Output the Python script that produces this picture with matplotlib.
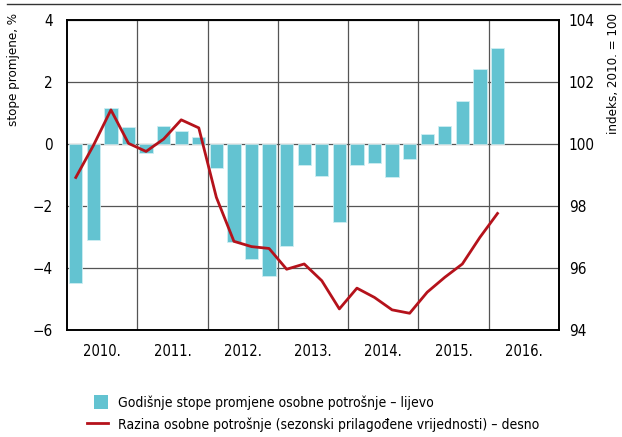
import matplotlib
matplotlib.use("Agg")
import matplotlib.pyplot as plt
from matplotlib.lines import Line2D
from matplotlib.patches import Patch, Rectangle
from matplotlib.legend_handler import HandlerPatch

plt.rcParams['font.family'] = ['DejaVu Sans']
plt.rcParams['font.stretch'] = 'condensed'

years = ["2010.", "2011.", "2012.", "2013.", "2014.", "2015.", "2016."]
growth = [-4.49, -3.10, 1.16, 0.56,
          -0.29, 0.59, 0.43, 0.24,
          -0.78, -3.17, -3.70, -4.27,
          -3.30, -0.67, -1.03, -2.51,
          -0.68, -0.61, -1.05, -0.48,
          0.32, 0.59, 1.40, 2.43,
          3.11]
level = [98.92, 99.95, 101.10, 100.02,
         99.76, 100.16, 100.78, 100.52,
         98.28, 96.86, 96.69, 96.63,
         95.96, 96.13, 95.59, 94.68,
         95.35, 95.05, 94.65, 94.54,
         95.22, 95.70, 96.13, 96.99,
         97.76]
left_ticks = [4, 2, 0, -2, -4, -6]
right_ticks = [104, 102, 100, 98, 96, 94]
legend_labels = ["Godišnje stope promjene osobne potrošnje – lijevo",
                 "Razina osobne potrošnje (sezonski prilagođene vrijednosti) – desno"]

bar_color = "#63c3d1"
line_color = "#b5121b"
grid_color = "#555555"

fig = plt.figure(figsize=(6.22, 4.37), dpi=100)
ax = fig.add_axes([67/622, 1-330/437, 492/622, 310/437])
ax2 = ax.twinx()

xq = [i + 0.5 for i in range(len(growth))]
ax.bar(xq, growth, width=0.76, color=bar_color, edgecolor="#cdeef2", linewidth=0.6, zorder=3)
ax2.plot(xq, level, color=line_color, lw=2.0, zorder=4)

ax.set_xlim(0, 28)
ax.set_ylim(-6, 4)
ax2.set_ylim(94, 104)

ax.set_yticks(left_ticks)
ax.set_yticklabels(["4", "2", "0", "−2", "−4", "−6"])
ax2.set_yticks(right_ticks)
ax2.set_yticklabels([str(t) for t in right_ticks])

for y in left_ticks:
    ax.axhline(y, color=grid_color, lw=0.9, zorder=1)
for x in range(4, 28, 4):
    ax.axvline(x, color=grid_color, lw=0.9, zorder=1)

ax.set_xticks([])
ax.set_xticks([2 + 4*i for i in range(len(years))], minor=True)
ax.set_xticklabels(years, minor=True, fontsize=10.5)
ax.tick_params(axis='x', which='minor', length=0, pad=10)
ax.tick_params(axis='y', length=0, labelsize=11, pad=10)
ax2.tick_params(axis='y', length=0, labelsize=11, pad=7)

for a in (ax, ax2):
    for s in a.spines.values():
        s.set_color("black")
        s.set_linewidth(1.2)

fig.text(14/622, 1-13/437, "stope promjene, %", rotation=90, fontsize=9.5,
         ha='center', va='top')
fig.text(614/622, 1-13/437, "indeks, 2010. = 100", rotation=90, fontsize=9.5,
         ha='center', va='top')

fig.add_artist(Line2D([7/622, 620/622], [1-4/437, 1-4/437], color="#333333", lw=1.0))


def square_patch(legend, orig_handle, xdescent, ydescent, width, height, fontsize):
    sq = height
    return Rectangle((-xdescent + width - sq, -ydescent), sq, sq)


handles = [Patch(facecolor=bar_color, edgecolor='none'),
           Line2D([0], [0], color=line_color, lw=2.0)]
fig.legend(handles, legend_labels, loc='upper left', bbox_to_anchor=(87/622, 1-395/437),
           frameon=False, fontsize=10, handlelength=1.5, handleheight=1.15,
           handletextpad=0.75, labelspacing=0.55, borderaxespad=0, borderpad=0,
           handler_map={Patch: HandlerPatch(patch_func=square_patch)})

fig.savefig("out.png", dpi=100)
